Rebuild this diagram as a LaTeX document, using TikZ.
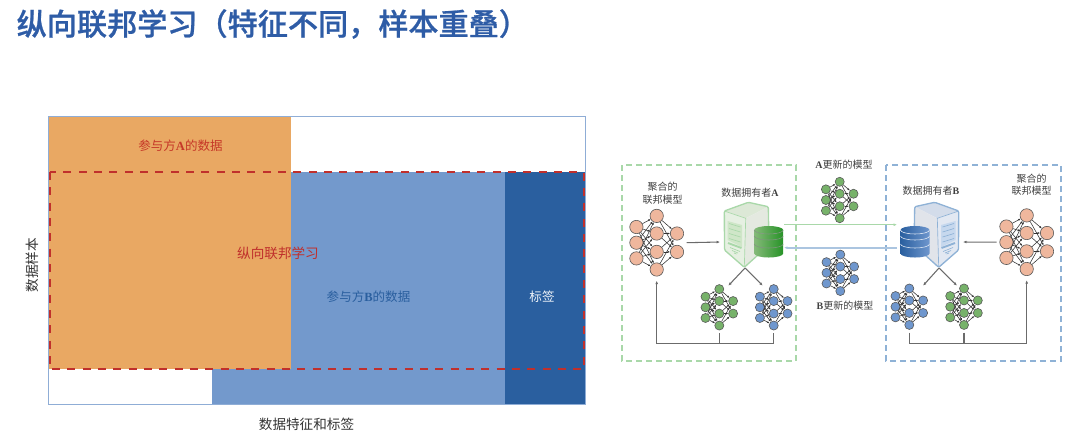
\documentclass[tikz,border=0pt]{standalone}
\usepackage{fontspec}
\setmainfont{Noto Sans CJK SC}
\newfontfamily\latinserif{Liberation Serif}
\newfontfamily\titlefont[FakeBold=0.8]{Noto Sans CJK SC Medium}
\usetikzlibrary{arrows.meta}

\definecolor{orangeblk}{HTML}{E9A863}
\definecolor{midblue}{HTML}{7399CC}
\definecolor{darkblue}{HTML}{2A5F9F}
\definecolor{redline}{HTML}{C0302C}
\definecolor{titleblue}{HTML}{2E5CA6}
\definecolor{pinknet}{HTML}{EFB79D}
\definecolor{greennet}{HTML}{77B26A}
\definecolor{bluenet}{HTML}{6F97CE}
\definecolor{boxgreen}{HTML}{A9D8A9}
\definecolor{boxblue}{HTML}{8FB2D6}

\newcommand{\lat}[1]{{\latinserif\bfseries #1}}

\tikzset{
  netunit/.style={circle,draw=black!65,line width=0.45pt,fill=#1,inner sep=0pt},
  netedge/.style={draw=black!80,line width=0.42pt,-{Latex[length=1.8pt,width=1.6pt]}},
  netbox/.style={inner sep=0pt,outer sep=0pt},
  flow/.style={draw=black!58,line width=0.8pt,-{Latex[length=2.6pt,width=2.2pt]}},
  bus/.style={draw=black!58,line width=0.8pt},
  bigtag/.style={font=\fontsize{10.2pt}{12pt}\selectfont},
  parttag/.style={font=\fontsize{9.4pt}{12pt}\selectfont},
  smalltag/.style={font=\fontsize{7.5pt}{9.5pt}\selectfont,text=black!75,align=center},
}

% name, x, y, colour, scale
\newcommand{\NNet}[5]{
  \begin{scope}[shift={(#2,#3)},scale=#5]
    \node[netbox,minimum width=#5*45pt,minimum height=#5*57pt] (#1) at (0,0) {};
    \foreach \i/\yy in {1/-15.7,2/0,3/15.7}
      \node[netunit=#4,minimum size=#5*10pt] (#1-1-\i) at (-20.3,\yy) {};
    \foreach \i/\yy in {1/-26.8,2/-9.2,3/9.2,4/26.8}
      \node[netunit=#4,minimum size=#5*10pt] (#1-2-\i) at (0,\yy) {};
    \foreach \i/\yy in {1/-9.2,2/9.2}
      \node[netunit=#4,minimum size=#5*10pt] (#1-3-\i) at (20.3,\yy) {};
    \foreach \a in {1,2,3}
      \foreach \b in {1,2,3,4}
        \draw[netedge] (#1-1-\a) -- (#1-2-\b);
    \foreach \a in {1,2,3,4}
      \foreach \b in {1,2}
        \draw[netedge] (#1-2-\a) -- (#1-3-\b);
  \end{scope}
}

% x, y, mirror, edge, top, side, face, panel
\newcommand{\ServerBox}[8]{
  \begin{scope}[shift={(#1,#2)},xscale=#3,line join=round]
    \fill[#5] (-20.7,-24) -- (3.3,-32.7) -- (23.3,-28.3) -- (.7,-16.7) -- cycle;
    \fill[#6] (.7,-16.7) -- (23.3,-28.3) -- (24,10) -- (-.7,32.3) -- cycle;
    \fill[#7] (-20.7,-24) -- (.7,-16.7) -- (-.7,32.3) -- (-20.5,15) -- cycle;
    \draw[#4,line width=1pt,rounded corners=1pt] (-20.7,-24) -- (3.3,-32.7) -- (23.3,-28.3)
      -- (24,10) -- (-.7,32.3) -- (-20.5,15) -- cycle;
    \draw[#4,line width=0.5pt] (-20.7,-24) -- (.7,-16.7) -- (-.7,32.3);
    \fill[#8] (-17.5,-14) -- (-3,-10) -- (-3,12) -- (-17.5,5) -- cycle;
    \foreach \yy in {-9,-4,1,6}
      \draw[#4,line width=0.5pt] (-16,\yy-2.5) -- (-4.5,\yy+1);
    \draw[#4,line width=1.4pt] (-17,8) -- (-3.5,13);
    \draw[#4,line width=0.5pt] (-15,12.5) -- (-5,16.5) (-13,15.5) -- (-7,18) (-11,18) -- (-8.5,19);
  \end{scope}
}

% x, top y, bottom y, left colour, right colour
\newcommand{\DbCyl}[5]{
  \path[left color=#4,right color=#5] (#1-14.5,#2) arc[start angle=180,end angle=0,x radius=14.5,y radius=4]
    -- (#1+14.5,#3) arc[start angle=0,end angle=180,x radius=14.5,y radius=4] -- cycle;
  \path[left color=#4,right color=#5] (#1,#2) ellipse[x radius=14.5,y radius=4];
  \foreach \dd in {0,6,14}
    \draw[white!85!#5,line width=0.4pt] (#1-14.5,#2+\dd) arc[start angle=180,end angle=0,x radius=14.5,y radius=4];
}

\definecolor{srvAtop}{HTML}{DCE8D6}
\definecolor{srvAside}{HTML}{E4E9E0}
\definecolor{srvAface}{HTML}{E6F0E2}
\definecolor{srvApanel}{HTML}{CFE6C8}
\definecolor{srvBtop}{HTML}{D3DCEA}
\definecolor{srvBside}{HTML}{E1E4EA}
\definecolor{srvBface}{HTML}{E2E8F2}
\definecolor{srvBpanel}{HTML}{C6D8EE}

\begin{document}
\begin{tikzpicture}[x=0.75pt,y=-0.75pt]
  \useasboundingbox (0,0) rectangle (1080,440);

  \node[anchor=west,text=titleblue,font=\fontsize{22.6pt}{26pt}\titlefont] (title) at (12,24) {纵向联邦学习（特征不同，样本重叠）};

  % left chart
  \fill[midblue] (291,172) rectangle (505,404);
  \fill[midblue] (212,369) rectangle (291,404);
  \fill[darkblue] (505,172) rectangle (585,404);
  \fill[orangeblk] (49,116) rectangle (291,369);
  \draw[midblue!80,line width=0.6pt] (48.5,116) rectangle (585,404);
  \draw[redline,line width=1.5pt,dash pattern=on 6pt off 5.5pt] (49.5,172) rectangle (584,369);

  \node[parttag,text=redline!90!orange] (partA) at (180.5,146) {参与方\lat{A}的数据};
  \node[bigtag,text=redline] (overlap) at (278,253) {纵向联邦学习};
  \node[parttag,text=darkblue] (partB) at (368.5,297) {参与方\lat{B}的数据};
  \node[text=white!90!midblue,font=\fontsize{9.4pt}{12pt}\selectfont] (labeltag) at (542,297) {标签};
  \node[bigtag,text=black!80,rotate=90] (ysamples) at (32,265) {数据样本};
  \node[bigtag,text=black!80] (xfeatures) at (306.5,424) {数据特征和标签};

  % right panels
  \draw[boxgreen,line width=0.8pt,dash pattern=on 4.5pt off 3pt] (622,165) rectangle (796,361);
  \draw[boxblue,line width=0.8pt,dash pattern=on 4.5pt off 3pt] (886,165) rectangle (1061,361);

  \ServerBox{745}{235}{1}{boxgreen}{srvAtop}{srvAside}{srvAface}{srvApanel}
  \ServerBox{938}{235}{-1}{boxblue}{srvBtop}{srvBside}{srvBface}{srvBpanel}
  \DbCyl{768.7}{230}{253.5}{greennet!90!white}{green!50!black!85!white}
  \DbCyl{915}{230}{253.5}{darkblue}{bluenet}

  \node[netbox,minimum width=21pt,minimum height=17.25pt] (dbA) at (770,236.2) {};
  \node[netbox,minimum width=27pt,minimum height=17.25pt] (dbB) at (915,236.2) {};
  \node[netbox,minimum width=37.5pt,minimum height=39pt] (srvA) at (745,242) {};
  \node[netbox,minimum width=36pt,minimum height=39pt] (srvB) at (939,242) {};

  \NNet{pinkA}{656.7}{242.7}{pinknet}{1}
  \NNet{greenA}{719.3}{307.3}{greennet}{0.68}
  \NNet{blueA}{773.7}{307.3}{bluenet}{0.68}
  \NNet{greenX}{839.7}{200}{greennet}{0.68}
  \NNet{blueX}{840.3}{272.8}{bluenet}{0.68}
  \NNet{blueB}{909.3}{306.7}{bluenet}{0.68}
  \NNet{greenB}{964}{306.7}{greennet}{0.68}
  \NNet{pinkB}{1026.7}{242.2}{pinknet}{1}

  \node[smalltag] (aggA) at (662.7,193.5) {聚合的\\联邦模型};
  \node[smalltag] (aggB) at (1031.7,184.8) {聚合的\\联邦模型};
  \node[smalltag] (ownerA) at (750,192.7) {数据拥有者\lat{A}};
  \node[smalltag] (ownerB) at (931,190.7) {数据拥有者\lat{B}};
  \node[smalltag] (updA) at (844,164.3) {\lat{A}更新的模型};
  \node[smalltag] (updB) at (845,305.7) {\lat{B}更新的模型};

  \coordinate (tipGA) at (728.3,285.7);
  \coordinate (tipBA) at (762.7,285.7);
  \coordinate (tipBB) at (923,285.7);
  \coordinate (tipGB) at (957,285.7);
  \coordinate (busA) at (656.7,343.3);
  \coordinate (busB) at (1026.7,343.3);

  \draw[flow] (pinkA.east) -- (srvA.west);
  \draw[flow] (pinkB.west) -- (srvB.east);
  \draw[flow] (srvA.south) -- (tipGA);
  \draw[flow] (srvA.south) -- (tipBA);
  \draw[flow] (srvB.south) -- (tipBB);
  \draw[flow] (srvB.south) -- (tipGB);
  \draw[flow] (blueA.south) |- (busA) -- (pinkA.south);
  \draw[bus] (greenA.south) -- (greenA.south |- busA);
  \draw[flow] (blueB.south) |- (busB) -- (pinkB.south);
  \draw[bus] (greenB.south) -- (greenB.south |- busB);

  \draw[flow,draw=boxgreen,line width=0.9pt] (dbA.north east) -- (dbB.north west);
  \draw[flow,draw=boxblue!75,line width=1.2pt] (dbB.south west) -- (dbA.south east);
\end{tikzpicture}
\end{document}
